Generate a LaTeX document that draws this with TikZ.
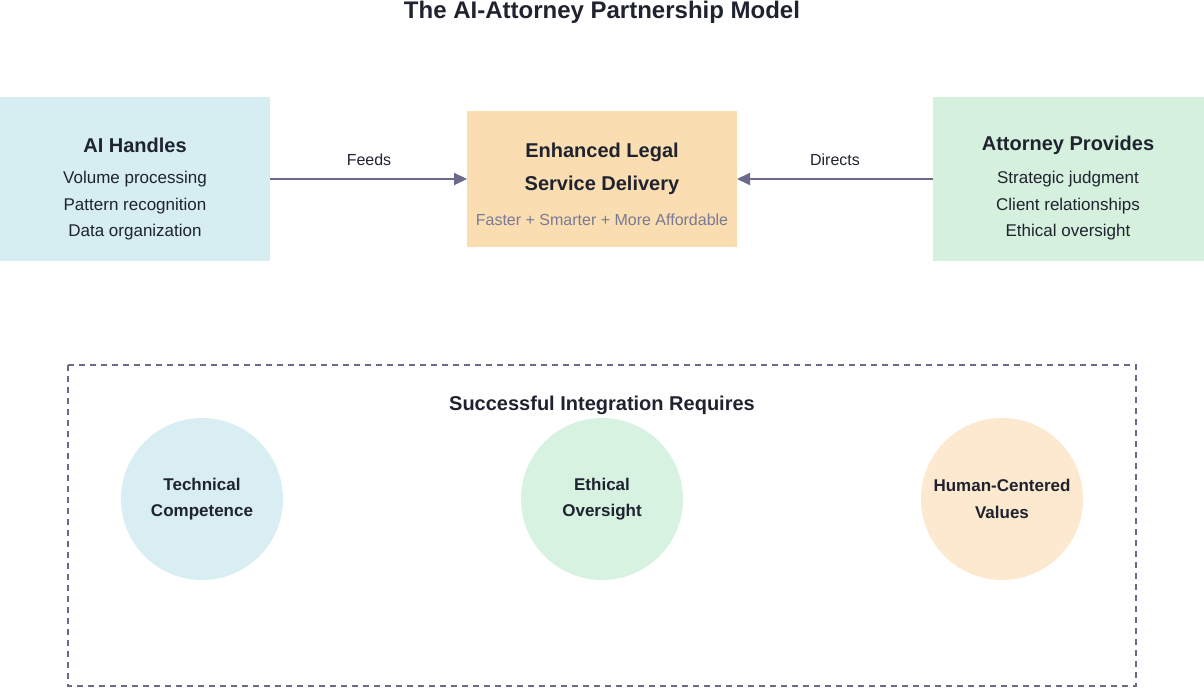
\documentclass[tikz,border=0pt]{standalone}
\usepackage{fontspec}
\setmainfont{Liberation Sans}
\usetikzlibrary{arrows.meta}
\definecolor{tblue}{HTML}{D6EDF2}
\definecolor{torange}{HTML}{FADDB0}
\definecolor{tgreen}{HTML}{D5F0DC}
\definecolor{cblue}{HTML}{D8EEF3}
\definecolor{cgreen}{HTML}{D7F2E0}
\definecolor{corange}{HTML}{FCE9CF}
\definecolor{edge}{HTML}{6B6A8A}
\definecolor{ink}{HTML}{1F2330}
\begin{document}
\begin{tikzpicture}[x=1pt,y=-1pt,
 box/.style={draw=none,minimum width=271pt,align=center,inner sep=0pt},
 head/.style={font=\fontsize{20}{24}\selectfont\bfseries,text=ink},
 body/.style={font=\fontsize{17}{26.5}\selectfont,text=ink,align=center},
 circ/.style={circle,minimum size=162pt,inner sep=0pt,align=center,font=\fontsize{17}{26.5}\selectfont\bfseries,text=ink},
 conn/.style={draw=edge,line width=2pt,-{Triangle[length=13pt,width=12pt]}},
 lab/.style={font=\fontsize{16}{19}\selectfont,text=ink}]
\useasboundingbox (0,0) rectangle (1204,688);
\node[font=\fontsize{24}{28}\selectfont\bfseries,text=ink] (title) at (602,12) {The AI-Attorney Partnership Model};
\fill[tblue] (0,97) rectangle (270,261);
\fill[torange] (467,111) rectangle (737,247);
\fill[tgreen] (933,97) rectangle (1204,261);
\node[head] (ah) at (135,145) {AI Handles};
\node[body] (ab) at (135,206) {Volume processing\\Pattern recognition\\Data organization};
\node[head] (ph) at (1068,145) {Attorney Provides};
\node[body] (pb) at (1068,206) {Strategic judgment\\Client relationships\\Ethical oversight};
\node[head,align=center,font=\fontsize{20}{33}\selectfont\bfseries] (ch) at (602,169) {Enhanced Legal\\Service Delivery};
\node[font=\fontsize{16}{19}\selectfont,text=edge!90] (cs) at (602,220) {Faster + Smarter + More Affordable};
\coordinate (l) at (270,179); \coordinate (cl) at (467,179);
\coordinate (r) at (933,179); \coordinate (cr) at (737,179);
\draw[conn] (l) -- (cl);
\draw[conn] (r) -- (cr);
\node[lab] (feeds) at (369,160) {Feeds};
\node[lab] (dir) at (835,160) {Directs};
\draw[edge,line width=2pt,dash pattern=on 6pt off 5pt] (68,365) rectangle (1136,686);
\node[font=\fontsize{20}{24}\selectfont\bfseries,text=ink] (req) at (602,405) {Successful Integration Requires};
\node[circ,fill=cblue] (c1) at (202,499) {Technical\\Competence};
\node[circ,fill=cgreen] (c2) at (602,499) {Ethical\\Oversight};
\node[circ,fill=corange] (c3) at (1002,499) {Human-Centered\\Values};
\end{tikzpicture}
\end{document}
